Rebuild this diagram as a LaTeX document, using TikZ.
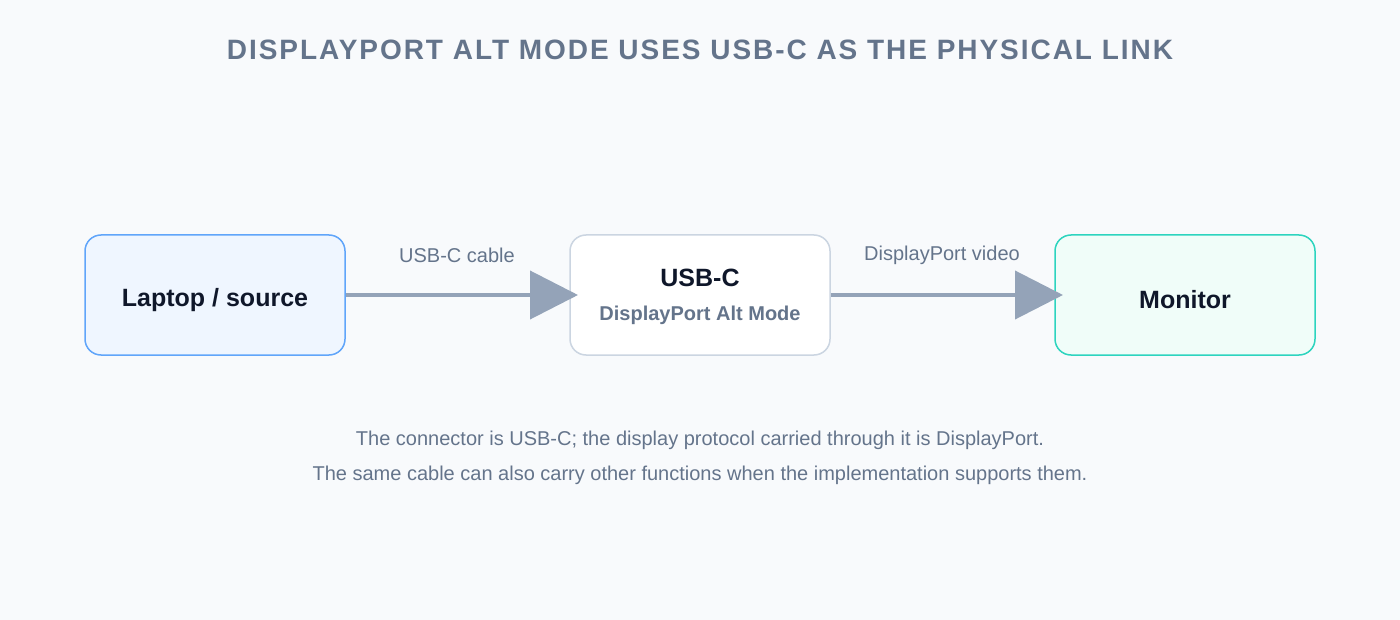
\documentclass[tikz,border=0pt]{standalone}
\usepackage{fontspec}
\setmainfont{Liberation Sans}
\usetikzlibrary{arrows.meta}
\definecolor{bg}{HTML}{F8FAFC}
\definecolor{muted}{HTML}{64748B}
\definecolor{dark}{HTML}{0F172A}
\definecolor{arr}{HTML}{94A3B8}
\definecolor{bluel}{HTML}{60A5FA}
\definecolor{bluef}{HTML}{EFF6FF}
\definecolor{grayl}{HTML}{CBD5E1}
\definecolor{tealL}{HTML}{2DD4BF}
\definecolor{tealf}{HTML}{F0FDF9}
\begin{document}
\begin{tikzpicture}[x=1pt,y=-1pt,
  box/.style={draw, line width=1.5pt, rounded corners=16pt, minimum width=260pt, minimum height=120pt, inner sep=0pt},
  lbl/.style={text=muted, font=\fontsize{20}{24}\selectfont},
  conn/.style={draw=arr, line width=4pt, -{Triangle[length=48pt,width=48pt]}}]
\fill[bg] (0,0) rectangle (1400,620);
\node[text=muted, font=\fontsize{28}{32}\selectfont\bfseries\addfontfeatures{LetterSpace=7}] (title) at (700,50) {DISPLAYPORT ALT MODE USES USB-C AS THE PHYSICAL LINK};
\node[box, draw=bluel, fill=bluef] (lap) at (215,295) {};
\node[box, draw=grayl, fill=white] (usb) at (700,295) {};
\node[box, draw=tealL, fill=tealf] (mon) at (1185,295) {};
\node[text=dark, font=\fontsize{25}{28}\selectfont\bfseries] (lapt) at (215,300) {Laptop / source};
\node[text=dark, font=\fontsize{25}{28}\selectfont\bfseries] (usbt) at (700,278) {USB-C};
\node[text=muted, font=\fontsize{20}{24}\selectfont\bfseries] (usbs) at (700,315) {DisplayPort Alt Mode};
\node[text=dark, font=\fontsize{25}{28}\selectfont\bfseries] (mont) at (1185,300) {Monitor};
\coordinate (t1) at (578,295);
\coordinate (t2) at (1063,295);
\draw[conn] (lap.east) -- (t1);
\draw[conn] (usb.east) -- (t2);
\node[lbl] (l1) at (457,255) {USB-C cable};
\node[lbl] (l2) at (942,255) {DisplayPort video};
\node[lbl] (n1) at (700,440) {The connector is USB-C; the display protocol carried through it is DisplayPort.};
\node[lbl] (n2) at (700,475) {The same cable can also carry other functions when the implementation supports them.};
\end{tikzpicture}
\end{document}
